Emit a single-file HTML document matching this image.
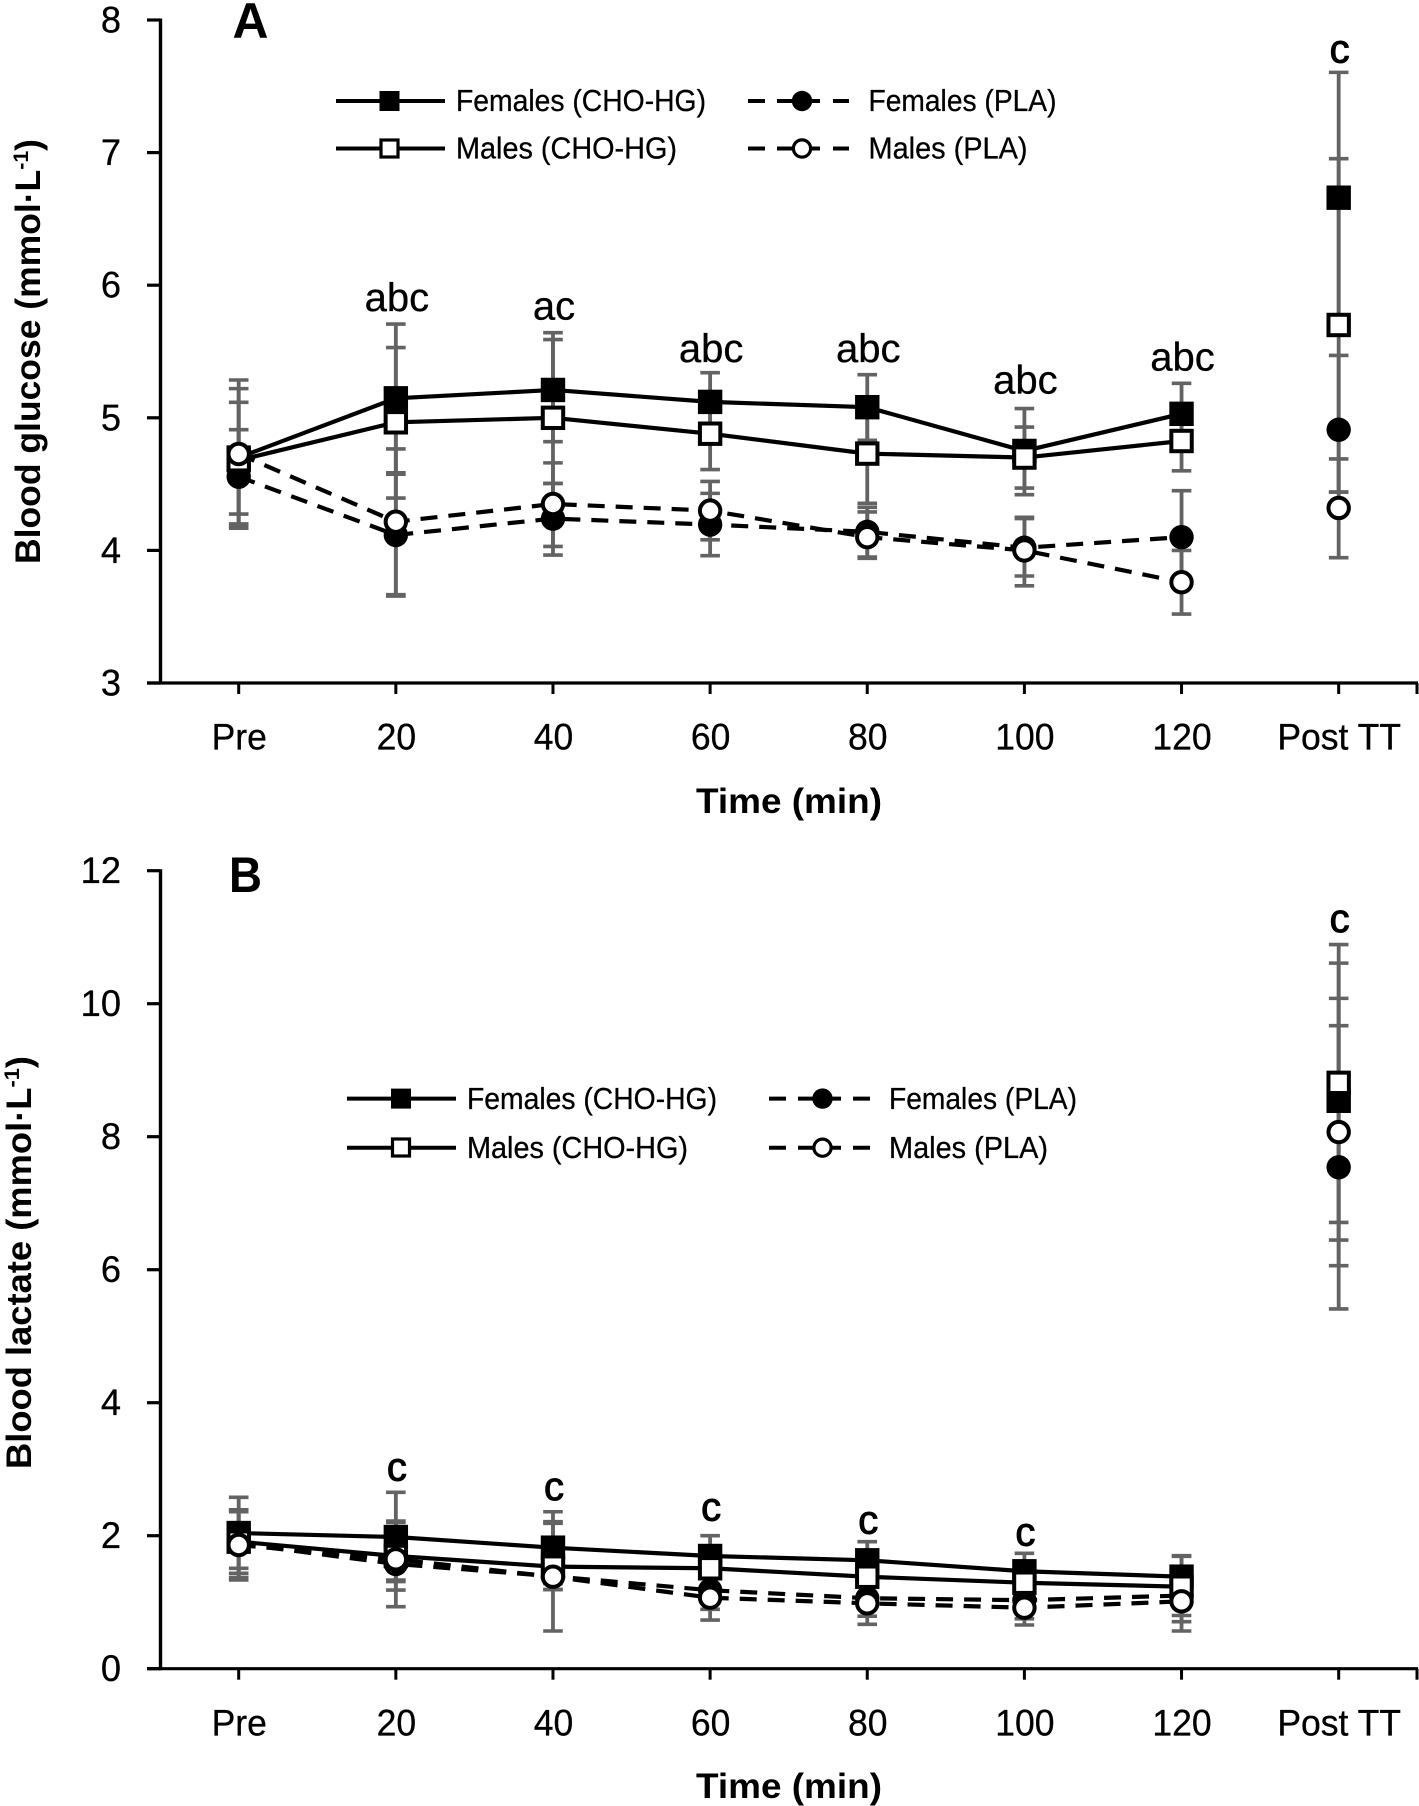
<!DOCTYPE html>
<html lang="en">
<head>
<meta charset="utf-8">
<title>Blood glucose and blood lactate over time</title>
<style>
html,body{margin:0;padding:0;background:#fff;width:1419px;height:1806px;overflow:hidden}
svg{display:block}
text{font-family:"Liberation Sans",sans-serif;fill:#000}
.leg text{stroke:#000;stroke-width:.3px}
</style>
</head>
<body>
<svg id="figure" xmlns="http://www.w3.org/2000/svg" width="1419" height="1806" viewBox="0 0 1419 1806">
  <rect x="0" y="0" width="1419" height="1806" fill="#fff"/>

  <text x="232.5" y="38" font-size="50" font-weight="700" textLength="36" lengthAdjust="spacingAndGlyphs">A</text>
  <text x="229" y="892" font-size="50" font-weight="700" textLength="33" lengthAdjust="spacingAndGlyphs">B</text>

  <text transform="translate(40,564) rotate(-90)" font-size="35" font-weight="700" textLength="425" lengthAdjust="spacingAndGlyphs">Blood glucose (mmol·L<tspan dy="-12" font-size="21">-1</tspan><tspan dy="12">)</tspan></text>
  <text transform="translate(31,1469) rotate(-90)" font-size="35" font-weight="700" textLength="413" lengthAdjust="spacingAndGlyphs">Blood lactate (mmol·L<tspan dy="-12" font-size="21">-1</tspan><tspan dy="12">)</tspan></text>

  <text x="696" y="813" font-size="35" font-weight="700" textLength="186" lengthAdjust="spacingAndGlyphs">Time (min)</text>
  <text x="696" y="1798" font-size="35" font-weight="700" textLength="186" lengthAdjust="spacingAndGlyphs">Time (min)</text>

  <g id="panelA"></g>
  <g id="panelB"></g>

  <g class="leg">
    <g>
      <line x1="336" x2="445" y1="101" y2="101" stroke="#000" stroke-width="4"/>
      <rect x="379.5" y="91" width="20" height="20" fill="#000"/>
      <text x="456" y="111" font-size="31" textLength="250" lengthAdjust="spacingAndGlyphs">Females (CHO-HG)</text>
    </g>
    <g>
      <line x1="336" x2="445" y1="148.5" y2="148.5" stroke="#000" stroke-width="4"/>
      <rect x="381" y="140" width="17" height="17" fill="#fff" stroke="#000" stroke-width="3.2"/>
      <text x="456" y="158.7" font-size="31" textLength="221" lengthAdjust="spacingAndGlyphs">Males (CHO-HG)</text>
    </g>
    <g>
      <path d="M748 101H765M777 101H820M833 101H849" stroke="#000" stroke-width="4" fill="none"/>
      <circle cx="802" cy="101" r="10.2" fill="#000"/>
      <text x="868.5" y="111" font-size="31" textLength="188" lengthAdjust="spacingAndGlyphs">Females (PLA)</text>
    </g>
    <g>
      <path d="M748 148.5H765M777 148.5H820M833 148.5H849" stroke="#000" stroke-width="4" fill="none"/>
      <circle cx="802" cy="148.5" r="8.6" fill="#fff" stroke="#000" stroke-width="3.2"/>
      <text x="868.5" y="158.7" font-size="31" textLength="159" lengthAdjust="spacingAndGlyphs">Males (PLA)</text>
    </g>
  </g>

  <g class="leg">
    <g>
      <line x1="347" x2="456" y1="1098.6" y2="1098.6" stroke="#000" stroke-width="4"/>
      <rect x="391" y="1088.6" width="20" height="20" fill="#000"/>
      <text x="467" y="1109" font-size="31" textLength="250" lengthAdjust="spacingAndGlyphs">Females (CHO-HG)</text>
    </g>
    <g>
      <line x1="347" x2="456" y1="1147.7" y2="1147.7" stroke="#000" stroke-width="4"/>
      <rect x="392.5" y="1139" width="17" height="17" fill="#fff" stroke="#000" stroke-width="3.2"/>
      <text x="467" y="1158" font-size="31" textLength="221" lengthAdjust="spacingAndGlyphs">Males (CHO-HG)</text>
    </g>
    <g>
      <path d="M769 1098.6H786M798 1098.6H841M853 1098.6H870" stroke="#000" stroke-width="4" fill="none"/>
      <circle cx="822.5" cy="1098.6" r="10.2" fill="#000"/>
      <text x="889" y="1109" font-size="31" textLength="188" lengthAdjust="spacingAndGlyphs">Females (PLA)</text>
    </g>
    <g>
      <path d="M769 1147.7H786M798 1147.7H841M853 1147.7H870" stroke="#000" stroke-width="4" fill="none"/>
      <circle cx="822.5" cy="1147.7" r="8.6" fill="#fff" stroke="#000" stroke-width="3.2"/>
      <text x="889" y="1158" font-size="31" textLength="159" lengthAdjust="spacingAndGlyphs">Males (PLA)</text>
    </g>
  </g>
</svg>

<script>
// Shared categories
var categories = ['Pre', '20', '40', '60', '80', '100', '120', 'Post TT'];

// Panel A: blood glucose (mmol/L)
var glucoseTicks = [3, 4, 5, 6, 7, 8];
var glucoseFemalesCho = [4.70, 5.147, 5.21, 5.12, 5.08, 4.75, 5.03, 6.66];
var glucoseFemalesChoUpper = [5.22, 5.707, 5.642, 5.34, 5.325, 5.07, 5.26, 7.605];
var glucoseFemalesChoLower = [4.18, 4.585, 4.82, 4.90, 4.83, 4.47, 4.80, 5.72];
var glucoseMalesCho = [4.68, 4.966, 5.00, 4.88, 4.73, 4.70, 4.825, 5.70];
var glucoseMalesChoUpper = [5.117, 5.53, 5.59, 5.15, 5.11, 4.93, 5.05, 6.954];
var glucoseMalesChoLower = [4.274, 4.395, 4.505, 4.61, 4.355, 4.42, 4.60, 4.44];
var glucoseFemalesPla = [4.556, 4.116, 4.24, 4.195, 4.14, 4.02, 4.10, 4.91];
var glucoseFemalesPlaUpper = [4.91, 4.575, 4.505, 4.43, 4.325, 4.24, 4.45, 5.47];
var glucoseFemalesPlaLower = [4.20, 3.656, 3.965, 3.96, 3.95, 3.807, 3.75, 4.44];
var glucoseMalesPla = [4.727, 4.216, 4.35, 4.30, 4.10, 4.00, 3.76, 4.32];
var glucoseMalesPlaUpper = [5.285, 4.765, 4.66, 4.52, 4.29, 4.25, 4.00, 4.69];
var glucoseMalesPlaLower = [4.167, 3.666, 4.03, 4.08, 3.94, 3.733, 3.52, 3.945];
var glucoseAnnotations = ['', 'abc', 'ac', 'abc', 'abc', 'abc', 'abc', 'c'];
var glucoseAnnotationLevels = [0, 5.805, 5.742, 5.42, 5.42, 5.185, 5.355, 7.68];

// Panel B: blood lactate (mmol/L)
var lactateTicks = [0, 2, 4, 6, 8, 10, 12];
var lactateFemalesCho = [2.04, 1.98, 1.82, 1.695, 1.63, 1.465, 1.384, 8.54];
var lactateFemalesChoUpper = [2.577, 2.652, 2.36, 2.00, 1.91, 1.735, 1.70, 10.61];
var lactateFemalesChoLower = [1.51, 1.31, 1.28, 1.40, 1.35, 1.20, 1.07, 6.445];
var lactateMalesCho = [1.91, 1.695, 1.535, 1.51, 1.383, 1.293, 1.233, 8.81];
var lactateMalesChoUpper = [2.39, 2.20, 2.186, 1.80, 1.70, 1.55, 1.69, 10.89];
var lactateMalesChoLower = [1.434, 1.183, 1.19, 1.20, 1.08, 1.03, 0.707, 6.71];
var lactateFemalesPla = [1.88, 1.575, 1.39, 1.18, 1.06, 1.03, 1.10, 7.54];
var lactateFemalesPlaUpper = [2.36, 2.22, 2.21, 1.50, 1.35, 1.30, 1.40, 9.67];
var lactateFemalesPlaLower = [1.37, 0.932, 0.567, 0.893, 0.79, 0.75, 0.80, 5.41];
var lactateMalesPla = [1.86, 1.645, 1.383, 1.068, 0.983, 0.917, 1.013, 8.07];
var lactateMalesPlaUpper = [2.39, 1.95, 1.58, 1.40, 1.25, 1.20, 1.45, 10.08];
var lactateMalesPlaLower = [1.334, 1.334, 1.19, 0.732, 0.667, 0.657, 0.567, 6.06];
var lactateAnnotations = ['', 'c', 'c', 'c', 'c', 'c', '', 'c'];
var lactateAnnotationLevels = [0, 2.827, 2.537, 2.226, 2.036, 1.856, 0, 11.08];

// Number of categories joined by a connecting line; Post TT is marker only
var connectedCount = 7;

var SVGNS = 'http://www.w3.org/2000/svg';
function mk(tag, attrs, parent) {
  var el = document.createElementNS(SVGNS, tag);
  for (var k in attrs) { el.setAttribute(k, attrs[k]); }
  parent.appendChild(el);
  return el;
}

// Category axis function, shared by both panels
function xScale(i) { return 238.7 + 157.14 * i; }

function drawMarker(parent, kind, cx, cy) {
  var el;
  if (kind === 'filled-square') {
    el = mk('rect', {x: cx - 12.2, y: cy - 12.2, width: 24.4, height: 24.4, fill: '#000'}, parent);
  } else if (kind === 'open-square') {
    el = mk('rect', {x: cx - 10.2, y: cy - 10.2, width: 20.4, height: 20.4, fill: '#fff', stroke: '#000', 'stroke-width': 4}, parent);
  } else if (kind === 'filled-circle') {
    el = mk('circle', {cx: cx, cy: cy, r: 12.2, fill: '#000'}, parent);
  } else {
    el = mk('circle', {cx: cx, cy: cy, r: 10.2, fill: '#fff', stroke: '#000', 'stroke-width': 4}, parent);
  }
  
  
}

function drawPanel(panel) {
  var g = document.getElementById(panel.id);
  var y = panel.yScale;
  var axisBase = y(panel.ticks[0]);
  var axisTop = y(panel.ticks[panel.ticks.length - 1]);

  // Error bars sit behind every series
  panel.series.forEach(function (s) {
    s.values.forEach(function (v, i) {
      var x = xScale(i);
      var stem = mk('line', {x1: x, x2: x, y1: y(s.upper[i]), y2: y(s.lower[i]), stroke: '#636363', 'stroke-width': 3.8}, g);
      
      
      var capTop = mk('line', {x1: x - 9.8, x2: x + 9.8, y1: y(s.upper[i]), y2: y(s.upper[i]), stroke: '#636363', 'stroke-width': 3.6}, g);
      
      
      var capBottom = mk('line', {x1: x - 9.8, x2: x + 9.8, y1: y(s.lower[i]), y2: y(s.lower[i]), stroke: '#636363', 'stroke-width': 3.6}, g);
      
      
    });
  });

  // Axes
  var yAxis = mk('line', {x1: 160.5, x2: 160.5, y1: axisTop - 1.5, y2: axisBase + 1.5, stroke: '#000', 'stroke-width': 3.4}, g);
  
  
  var xAxis = mk('line', {x1: 147, x2: 1418, y1: axisBase, y2: axisBase, stroke: '#000', 'stroke-width': 3.2}, g);
  
  

  panel.ticks.forEach(function (t) {
    var mark = mk('line', {x1: 147, x2: 160, y1: y(t), y2: y(t), stroke: '#000', 'stroke-width': 3.2}, g);
    
    
    var label = mk('text', {transform: 'translate(121,' + (y(t) + 12.5) + ') scale(0.98,1)', 'text-anchor': 'end', 'font-size': 37, stroke: '#000', 'stroke-width': 0.3}, g);
    
    
    label.textContent = t;
  });

  categories.forEach(function (c, i) {
    var x = xScale(i);
    var mark = mk('line', {x1: x, x2: x, y1: axisBase, y2: axisBase + 11, stroke: '#000', 'stroke-width': 3}, g);
    
    
    var label = mk('text', {transform: 'translate(' + (x + 0.5) + ',' + (axisBase + 66.6) + ') scale(0.96,1)', 'text-anchor': 'middle', 'font-size': 37, stroke: '#000', 'stroke-width': 0.3}, g);
    
    
    label.textContent = c;
  });
  var endTick = mk('line', {x1: 1417, x2: 1417, y1: axisBase, y2: axisBase + 11, stroke: '#000', 'stroke-width': 3}, g);
  
  

  // Series lines and markers
  panel.series.forEach(function (s) {
    var pts = s.values.slice(0, connectedCount).map(function (v, i) {
      return xScale(i) + ',' + y(v);
    }).join(' ');
    var lineAttrs = {points: pts, fill: 'none', stroke: '#000', 'stroke-width': 4.2};
    if (s.dashed) { lineAttrs['stroke-dasharray'] = '17 11'; }
    var line = mk('polyline', lineAttrs, g);
    
    
    s.values.forEach(function (v, i) {
      drawMarker(g, s.marker, xScale(i), y(v));
    });
  });

  // Significance annotations: the single letter is set heavier than the letter groups
  panel.annotations.forEach(function (a, i) {
    if (!a) { return; }
    var note = mk('text', {x: xScale(i) + 1, y: y(panel.annotationLevels[i]), 'text-anchor': 'middle', 'font-size': 40, stroke: '#000', 'stroke-width': a.length === 1 ? 1 : 0.3}, g);
    
    
    note.textContent = a;
  });
}

drawPanel({
  id: 'panelA',
  ticks: glucoseTicks,
  yScale: function (v) { return 683 - (v - 3) * 132.6; },
  annotations: glucoseAnnotations,
  annotationLevels: glucoseAnnotationLevels,
  series: [
    {values: glucoseFemalesCho, upper: glucoseFemalesChoUpper, lower: glucoseFemalesChoLower, marker: 'filled-square', dashed: false},
    {values: glucoseFemalesPla, upper: glucoseFemalesPlaUpper, lower: glucoseFemalesPlaLower, marker: 'filled-circle', dashed: true},
    {values: glucoseMalesCho, upper: glucoseMalesChoUpper, lower: glucoseMalesChoLower, marker: 'open-square', dashed: false},
    {values: glucoseMalesPla, upper: glucoseMalesPlaUpper, lower: glucoseMalesPlaLower, marker: 'open-circle', dashed: true}
  ]
});

drawPanel({
  id: 'panelB',
  ticks: lactateTicks,
  yScale: function (v) { return 1668.7 - v * 66.5; },
  annotations: lactateAnnotations,
  annotationLevels: lactateAnnotationLevels,
  series: [
    {values: lactateFemalesCho, upper: lactateFemalesChoUpper, lower: lactateFemalesChoLower, marker: 'filled-square', dashed: false},
    {values: lactateFemalesPla, upper: lactateFemalesPlaUpper, lower: lactateFemalesPlaLower, marker: 'filled-circle', dashed: true},
    {values: lactateMalesCho, upper: lactateMalesChoUpper, lower: lactateMalesChoLower, marker: 'open-square', dashed: false},
    {values: lactateMalesPla, upper: lactateMalesPlaUpper, lower: lactateMalesPlaLower, marker: 'open-circle', dashed: true}
  ]
});
</script>
</body>
</html>
